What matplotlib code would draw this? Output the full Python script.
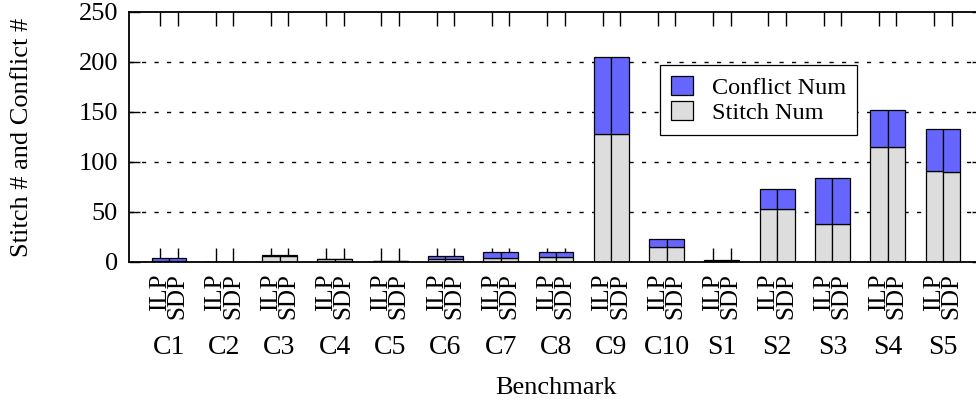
import matplotlib
matplotlib.use("Agg")
import matplotlib.pyplot as plt
import numpy as np

plt.rcParams['font.family'] = ['Liberation Serif', 'DejaVu Serif']

benchmarks = ['C1', 'C2', 'C3', 'C4', 'C5', 'C6', 'C7', 'C8', 'C9', 'C10',
              'S1', 'S2', 'S3', 'S4', 'S5']
methods = ['ILP', 'SDP']
ilp_stitch = [1, 0, 6, 3, 1, 3, 4, 5, 128, 15, 1, 53, 38, 115, 91]
ilp_conflict = [3, 0, 1, 0, 0, 3, 6, 5, 77, 8, 1, 20, 46, 37, 42]
sdp_stitch = [1, 0, 6, 3, 1, 3, 4, 5, 128, 15, 1, 53, 38, 115, 90]
sdp_conflict = [3, 0, 1, 0, 0, 3, 6, 5, 77, 8, 1, 20, 46, 37, 43]

blue = '#6666ff'
gray = '#dddddd'

fig = plt.figure(figsize=(9.76, 4.05), dpi=100)
ax = fig.add_axes([129 / 976, 143 / 405, 854 / 976, 250 / 405])

groups = np.arange(len(benchmarks))
w = 0.316
x_ilp = groups - w / 2
x_sdp = groups + w / 2

# stacked bars: stitch at the bottom, conflicts on top
kw = dict(width=w, edgecolor='black', linewidth=0.9)
ax.bar(x_ilp, ilp_stitch, color=gray, label='Stitch Num', **kw)
ax.bar(x_ilp, ilp_conflict, bottom=ilp_stitch, color=blue, label='Conflict Num', **kw)
ax.bar(x_sdp, sdp_stitch, color=gray, **kw)
ax.bar(x_sdp, sdp_conflict, bottom=sdp_stitch, color=blue, **kw)

ax.set_xlim(-0.723, len(benchmarks) - 1 + 0.723)
ax.set_ylim(0, 250)
ax.set_yticks([0, 50, 100, 150, 200, 250])
ax.set_axisbelow(True)
ax.yaxis.grid(True, color='black', linestyle=(0, (3, 6)), linewidth=1.0)
ax.yaxis.get_gridlines()[-1].set_visible(False)

xt = np.ravel(np.column_stack([x_ilp, x_sdp]))
ax.set_xticks(xt)
ax.set_xticklabels(methods * len(benchmarks), rotation=90, fontsize=18)
ax.tick_params(axis='x', direction='in', length=10, width=1.0, top=True, pad=8)
ax.tick_params(axis='y', direction='in', length=8, width=1.0, right=True,
               labelsize=19, pad=8)

# benchmark names under each ILP/SDP pair
for g, name in zip(groups, benchmarks):
    ax.text(g, -0.34, name, transform=ax.get_xaxis_transform(),
            ha='center', va='center', fontsize=20)

ax.set_xlabel('Benchmark', fontsize=19)
ax.xaxis.set_label_coords(0.5, -0.46)
ax.set_ylabel('Stitch # and Conflict #', fontsize=19)
ax.yaxis.set_label_coords(-0.112, 0.5)

for s in ax.spines.values():
    s.set_linewidth(1.3)

handles, labels = ax.get_legend_handles_labels()
leg = ax.legend(handles[::-1], labels[::-1], loc='upper left',
                bbox_to_anchor=(0.6218, 0.788), borderaxespad=0,
                fontsize=17.5, handlelength=0.9, handleheight=0.82,
                handletextpad=0.78, labelspacing=0.1, borderpad=0.45,
                fancybox=False, framealpha=1, edgecolor='black')
leg.get_frame().set_linewidth(0.9)

fig.savefig('out.png', dpi=100)
